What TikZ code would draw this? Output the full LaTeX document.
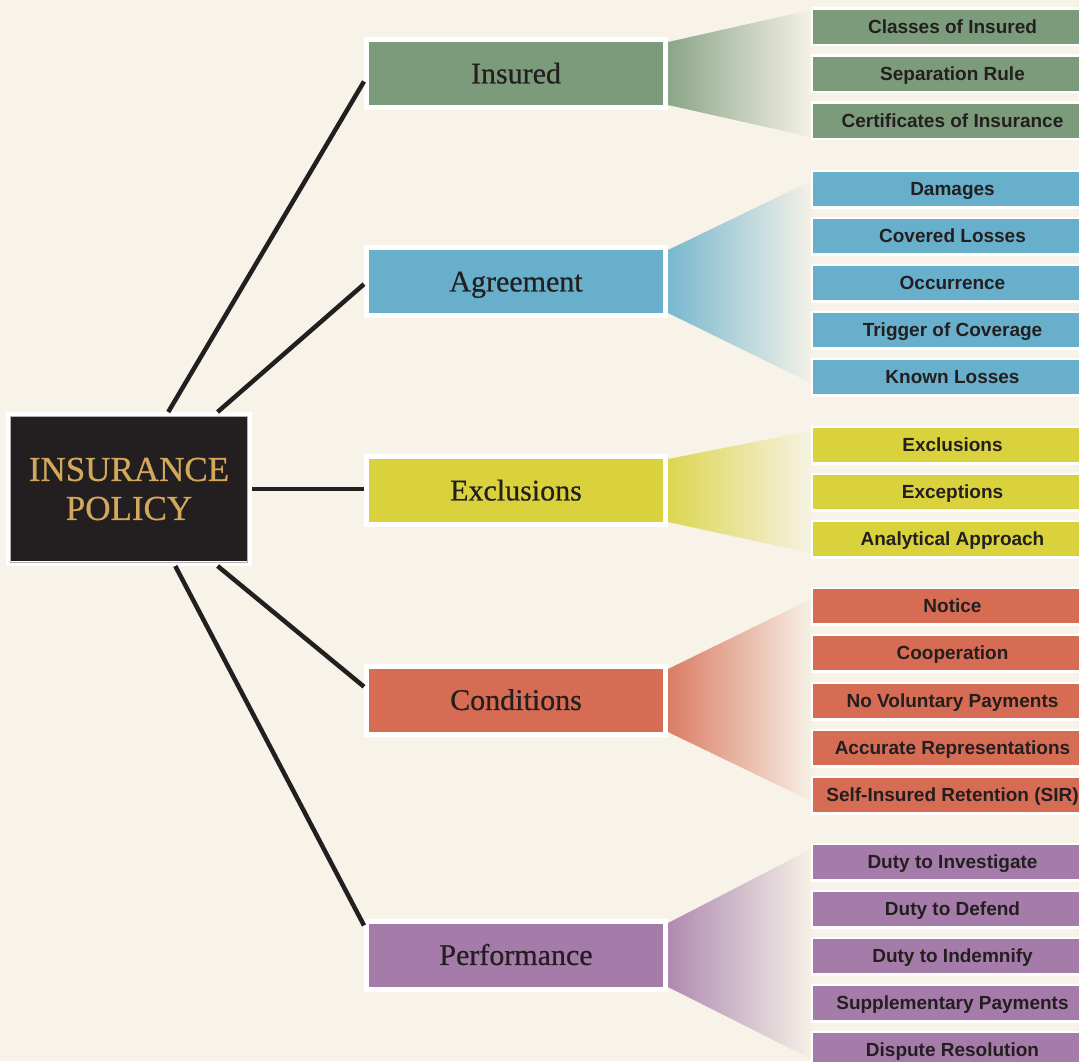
\documentclass[tikz,border=0pt]{standalone}
\usepackage{fontspec}
\setmainfont{Liberation Serif}
\newfontfamily\labfont{Liberation Sans}
\newfontfamily\midfont{Liberation Serif}[FakeBold=0.6]
\usetikzlibrary{calc}
\definecolor{bg}{HTML}{F7F3E8}
\definecolor{ink}{HTML}{231F20}
\definecolor{gold}{HTML}{D4A85A}
\definecolor{cgreen}{HTML}{7C9B7B}
\definecolor{cblue}{HTML}{68AFCC}
\definecolor{cyellow}{HTML}{D9D23C}
\definecolor{corange}{HTML}{D66C53}
\definecolor{cpurple}{HTML}{A57BA9}
\begin{document}
\begin{tikzpicture}[x=1pt,y=-1pt,
  rbox/.style={draw=white, line width=2.5pt, minimum width=281pt, minimum height=36.5pt,
    inner sep=0pt, text height=13.6pt, text depth=0pt, text=ink,
    font=\labfont\bfseries\fontsize{19}{22}\selectfont},
  mbox/.style={draw=white, line width=5pt, minimum width=299pt, minimum height=68pt,
    inner sep=0pt, text height=19.9pt, text depth=0pt, text=ink,
    font=\midfont\fontsize{30}{36}\selectfont},
  conn/.style={draw=ink, line width=4.5pt},
  fan/.style={left color=#1!88!bg, middle color=#1!33!bg, right color=bg}
]
\useasboundingbox (0,0) rectangle (1079,1061);
\fill[bg] (0,0) rectangle (1079,1061);

% fans
\shade[fan=cgreen]  (668,42)  -- (815,9)    -- (815,138)  -- (668,105) -- cycle;
\shade[fan=cblue]   (668,250) -- (815,179)  -- (815,385)  -- (668,313) -- cycle;
\shade[fan=cyellow] (668,459) -- (815,430)  -- (815,554)  -- (668,522) -- cycle;
\shade[fan=corange] (668,669) -- (815,597)  -- (815,803)  -- (668,732) -- cycle;
\shade[fan=cpurple] (668,923) -- (815,847)  -- (815,1061) -- (668,987) -- cycle;

% central
\node[draw=white, line width=5pt, fill=ink, minimum width=241pt, minimum height=149pt,
  inner sep=0pt, text=gold, align=center, font=\midfont\fontsize{35}{39}\selectfont]
  (pol) at (129,489) {INSURANCE\\POLICY};
\draw[gray!60, line width=0.8pt] ($(pol.center)+(-118.5,-73)$) rectangle ($(pol.center)+(118.5,73)$);

% middle boxes
\node[mbox, fill=cgreen]  (m1) at (516,73.5)  {Insured};
\node[mbox, fill=cblue]   (m2) at (516,281.5) {Agreement};
\node[mbox, fill=cyellow] (m3) at (516,490.5) {Exclusions};
\node[mbox, fill=corange] (m4) at (516,700)   {Conditions};
\node[mbox, fill=cpurple] (m5) at (516,955)   {Performance};

% right boxes
\node[rbox, fill=cgreen] (r11) at (952.5,26.5)  {Classes of Insured};
\node[rbox, fill=cgreen] (r12) at (952.5,73.5)  {Separation Rule};
\node[rbox, fill=cgreen] (r13) at (952.5,120.5) {Certificates of Insurance};

\node[rbox, fill=cblue] (r21) at (952.5,189) {Damages};
\node[rbox, fill=cblue] (r22) at (952.5,236) {Covered Losses};
\node[rbox, fill=cblue] (r23) at (952.5,283) {Occurrence};
\node[rbox, fill=cblue] (r24) at (952.5,330) {Trigger of Coverage};
\node[rbox, fill=cblue] (r25) at (952.5,377) {Known Losses};

\node[rbox, fill=cyellow] (r31) at (952.5,445) {Exclusions};
\node[rbox, fill=cyellow] (r32) at (952.5,492) {Exceptions};
\node[rbox, fill=cyellow] (r33) at (952.5,539) {Analytical Approach};

\node[rbox, fill=corange] (r41) at (952.5,606) {Notice};
\node[rbox, fill=corange] (r42) at (952.5,653) {Cooperation};
\node[rbox, fill=corange] (r43) at (952.5,701) {No Voluntary Payments};
\node[rbox, fill=corange] (r44) at (952.5,748) {Accurate Representations};
\node[rbox, fill=corange] (r45) at (952.5,795) {Self-Insured Retention (SIR)};

\node[rbox, fill=cpurple] (r51) at (952.5,862)  {Duty to Investigate};
\node[rbox, fill=cpurple] (r52) at (952.5,909)  {Duty to Defend};
\node[rbox, fill=cpurple] (r53) at (952.5,956)  {Duty to Indemnify};
\node[rbox, fill=cpurple] (r54) at (952.5,1003) {Supplementary Payments};
\node[rbox, fill=cpurple] (r55) at (952.5,1050) {Dispute Resolution};

% connectors
\draw[conn] (pol.63) -- (m1.183);
\draw[conn] (pol.41) -- (m2.181);
\draw[conn] (pol.east) -- (pol.east -| m3.west);
\draw[conn] (pol.-41) -- (m4.175);
\draw[conn] (pol.-59) -- (m5.169);
\end{tikzpicture}
\end{document}
